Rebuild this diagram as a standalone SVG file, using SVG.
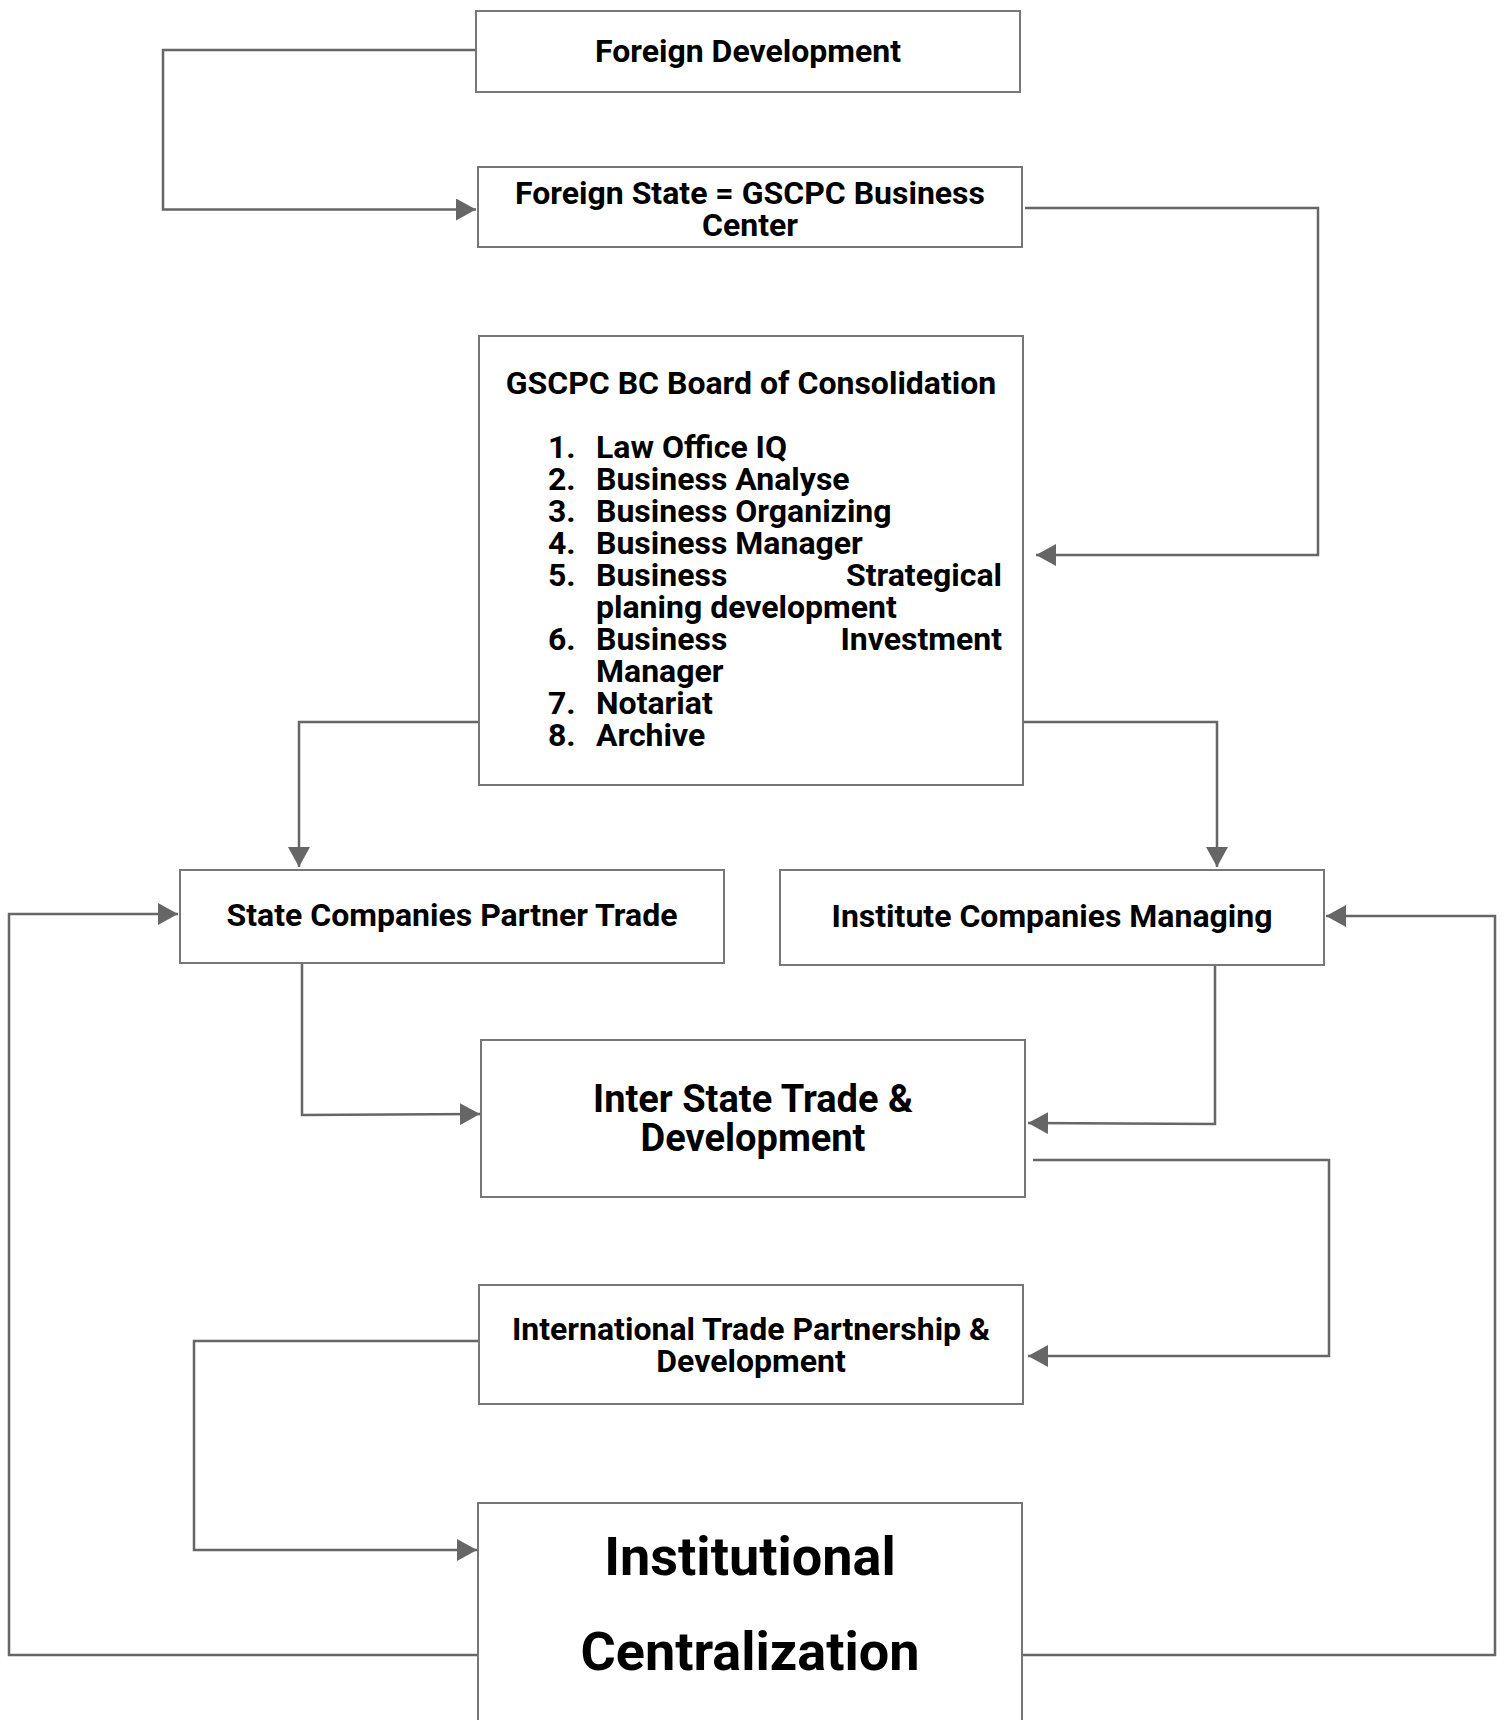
<svg xmlns="http://www.w3.org/2000/svg" width="1507" height="1720" viewBox="0 0 1507 1720">
<style>
.box{fill:#fff;stroke:#777;stroke-width:2}
.t{font-family:Roboto,"Liberation Sans",sans-serif;font-weight:700;fill:#000;font-size:32px}
.c{text-anchor:middle}
.e{text-anchor:end}
.ln{fill:none;stroke:#666;stroke-width:2.5}
</style>
<defs>
<marker id="ah" markerUnits="userSpaceOnUse" markerWidth="22" markerHeight="22" refX="20" refY="11" orient="auto">
<path d="M0,0 L20,11 L0,22 Z" fill="#666"/>
</marker>
</defs>
<rect width="1507" height="1720" fill="#fff"/>
<g id="connectors">
<polyline class="ln" points="476,50 163,50 163,209.5 476,209.5" marker-end="url(#ah)"/>
<polyline class="ln" points="1025,208 1318,208 1318,555 1036,555" marker-end="url(#ah)"/>
<polyline class="ln" points="479,722 299,722 299,867" marker-end="url(#ah)"/>
<polyline class="ln" points="1023,722 1217,722 1217,867" marker-end="url(#ah)"/>
<polyline class="ln" points="479,1655 9,1655 9,914 178,914" marker-end="url(#ah)"/>
<polyline class="ln" points="1023,1655 1495,1655 1495,916 1326,916" marker-end="url(#ah)"/>
<polyline class="ln" points="302,963 302,1115 480,1114" marker-end="url(#ah)"/>
<polyline class="ln" points="1215,965 1215,1124 1028,1123" marker-end="url(#ah)"/>
<polyline class="ln" points="1033,1160 1329,1160 1329,1356 1028,1356" marker-end="url(#ah)"/>
<polyline class="ln" points="483,1341 194,1341 194,1550 477,1550" marker-end="url(#ah)"/>
</g>
<g id="foreign-development">
<rect class="box" x="476" y="11" width="544" height="81"/>
<text class="t c" x="748" y="62">Foreign Development</text>
</g>
<g id="foreign-state">
<rect class="box" x="478" y="167" width="544" height="80"/>
<text class="t c" x="750" y="203.5">Foreign State = GSCPC Business</text>
<text class="t c" x="750" y="235.5">Center</text>
</g>
<g id="board">
<rect class="box" x="479" y="336" width="544" height="449"/>
<text class="t c" x="751" y="394">GSCPC BC Board of Consolidation</text>
<g class="t">
<text x="548" y="458">1.</text><text x="596" y="458">Law Office IQ</text>
<text x="548" y="490">2.</text><text x="596" y="490">Business Analyse</text>
<text x="548" y="522">3.</text><text x="596" y="522">Business Organizing</text>
<text x="548" y="554">4.</text><text x="596" y="554">Business Manager</text>
<text x="548" y="586">5.</text><text x="596" y="586">Business</text><text class="e" x="1002" y="586">Strategical</text>
<text x="596" y="618">planing development</text>
<text x="548" y="650">6.</text><text x="596" y="650">Business</text><text class="e" x="1002" y="650">Investment</text>
<text x="596" y="682">Manager</text>
<text x="548" y="714">7.</text><text x="596" y="714">Notariat</text>
<text x="548" y="746">8.</text><text x="596" y="746">Archive</text>
</g>
</g>
<g id="state-companies">
<rect class="box" x="180" y="870" width="544" height="93"/>
<text class="t c" x="452" y="926">State Companies Partner Trade</text>
</g>
<g id="institute-companies">
<rect class="box" x="780" y="870" width="544" height="95"/>
<text class="t c" x="1052" y="927">Institute Companies Managing</text>
</g>
<g id="inter-state">
<rect class="box" x="481" y="1040" width="544" height="157"/>
<text class="t c" x="753" y="1111.5" style="font-size:38px">Inter State Trade &amp;</text>
<text class="t c" x="753" y="1151" style="font-size:38px">Development</text>
</g>
<g id="international">
<rect class="box" x="479" y="1285" width="544" height="119"/>
<text class="t c" x="751" y="1339.5">International Trade Partnership &amp;</text>
<text class="t c" x="751" y="1371.5">Development</text>
</g>
<g id="institutional">
<rect class="box" x="478" y="1503" width="544" height="230"/>
<text class="t c" x="750" y="1575" style="font-size:54px">Institutional</text>
<text class="t c" x="750" y="1670" style="font-size:54px">Centralization</text>
</g>
</svg>
